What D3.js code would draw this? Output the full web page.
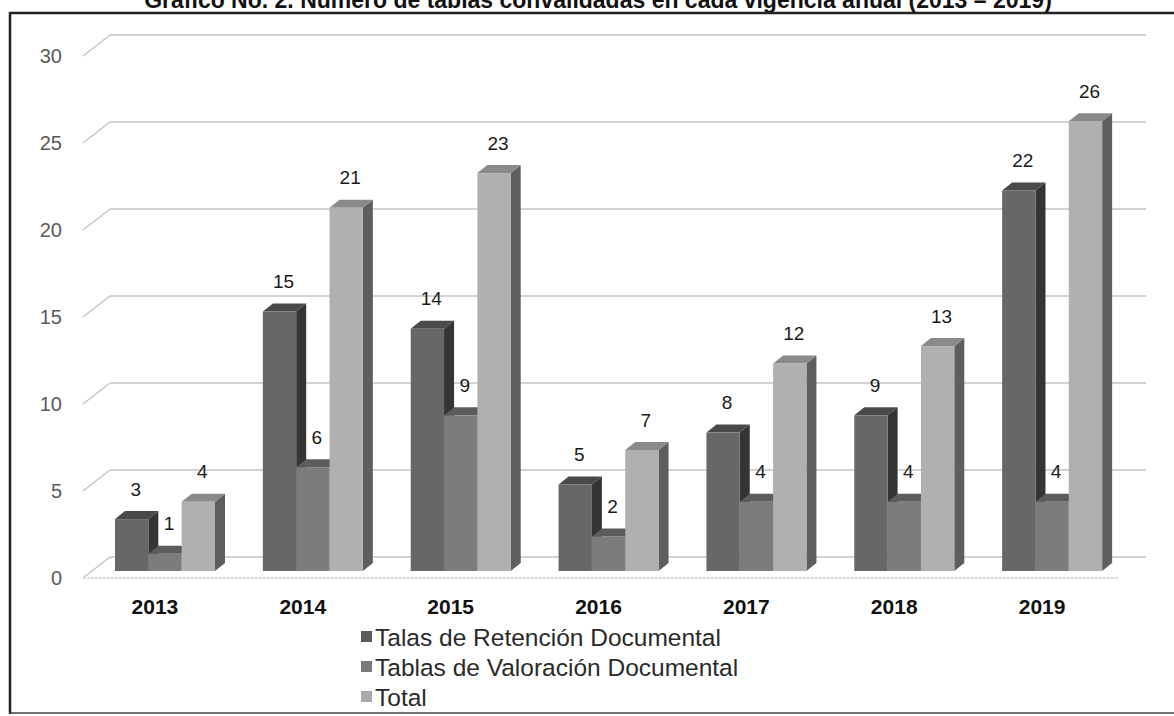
<!DOCTYPE html>
<html><head><meta charset="utf-8">
<script src="https://cdn.jsdelivr.net/npm/d3@7"></script>
<style>html,body{margin:0;padding:0;background:#fff;}svg{display:block;}</style>
</head><body>
<script>
const years = ["2013","2014","2015","2016","2017","2018","2019"];
const seriesNames = ["Talas de Retención Documental","Tablas de Valoración Documental","Total"];
const talas = [3,15,14,5,8,9,22];
const valoracion = [1,6,9,2,4,4,4];
const total = [4,21,23,7,12,13,26];
const yTicks = [0,5,10,15,20,25,30];
const title = "Gráfico No. 2. Número de tablas convalidadas en cada vigencia anual (2013 – 2019)";

const seriesValues = [talas, valoracion, total];
const colors = [
  {front:"#676767", top:"#4a4a4a", side:"#343434", key:"#5a5a5a"},
  {front:"#7c7c7c", top:"#5c5c5c", side:"#4a4a4a", key:"#7a7a7a"},
  {front:"#b0b0b0", top:"#8a8a8a", side:"#5e5e5e", key:"#ababab"}
];

const W = 1174, H = 716;
const svg = d3.select("body").append("svg").attr("width", W).attr("height", H);
const font = "'Liberation Sans', Arial, sans-serif";

// title (cut off at top as in the scan)
svg.append("text").attr("x", 598).attr("y", 8).attr("text-anchor","middle")
  .attr("font-family", font).attr("font-weight","bold").attr("font-size", 23)
  .attr("fill","#111").text(title);

// frame
svg.append("line").attr("x1",9).attr("x2",W).attr("y1",13).attr("y2",13).attr("stroke","#222").attr("stroke-width",2.5);
svg.append("line").attr("x1",10).attr("x2",10).attr("y1",12).attr("y2",714).attr("stroke","#222").attr("stroke-width",2.5);
svg.append("line").attr("x1",9).attr("x2",W).attr("y1",713).attr("y2",713).attr("stroke","#444").attr("stroke-width",1.5);

// scales
const depthX = 27, depthY = 21;
const x0 = d3.scaleBand().domain(years).range([83, 1118]).padding(0);
const x1 = d3.scaleBand().domain(d3.range(seriesNames.length)).range([32, 132]).padding(0);
const yWall = d3.scaleLinear().domain([0,30]).range([557, 35]);
const yBar = d3.scaleLinear().domain([0,30]).range([571, 52]);

// gridlines on back wall + diagonals on side
const grid = svg.append("g");
yTicks.forEach(v => {
  const yb = yWall(v);
  grid.append("line").attr("x1", 83).attr("y1", yb + depthY).attr("x2", 83 + depthX).attr("y2", yb)
    .attr("stroke","#c4c4c4").attr("stroke-width",1.4);
  grid.append("line").attr("x1", 83 + depthX).attr("y1", yb).attr("x2", 1146).attr("y2", yb)
    .attr("stroke","#c4c4c4").attr("stroke-width",1.4);
  svg.append("text").attr("x", 62).attr("y", yb + depthY).attr("dy","0.35em")
    .attr("text-anchor","end").attr("font-family", font).attr("font-size", 20)
    .attr("fill","#5a5a5a").text(v);
});
// floor front edge
grid.append("line").attr("x1",83).attr("y1",557+depthY).attr("x2",1118).attr("y2",557+depthY)
  .attr("stroke","#d0d0d0").attr("stroke-width",1.4).attr("stroke-dasharray","3,1");

// bars
const dx = 10, dy = 8;
const bars = svg.append("g");
years.forEach((yr, i) => {
  seriesValues.forEach((vals, s) => {
    const v = vals[i];
    const x = x0(yr) + x1(s);
    const w = x1.bandwidth();
    const top = yBar(v), base = yBar(0);
    const c = colors[s];
    bars.append("polygon")
      .attr("points", [[x+w,top],[x+w+dx,top-dy],[x+w+dx,base-dy],[x+w,base]].map(p=>p.join(",")).join(" "))
      .attr("fill", c.side);
    bars.append("polygon")
      .attr("points", [[x,top],[x+dx,top-dy],[x+w+dx,top-dy],[x+w,top]].map(p=>p.join(",")).join(" "))
      .attr("fill", c.top);
    bars.append("rect").attr("x", x).attr("y", top).attr("width", w).attr("height", base - top)
      .attr("fill", c.front);
  });
});

// value labels
const labels = svg.append("g");
years.forEach((yr, i) => {
  seriesValues.forEach((vals, s) => {
    const v = vals[i];
    const x = x0(yr) + x1(s) + x1.bandwidth()/2 + 4;
    labels.append("text").attr("x", x).attr("y", yBar(v) - 30).attr("dy","0.35em")
      .attr("text-anchor","middle").attr("font-family", font).attr("font-size", 19)
      .attr("fill","#1a1a1a").text(v);
  });
});

// category labels
years.forEach(yr => {
  svg.append("text").attr("x", x0(yr) + x0.bandwidth()/2 - 2).attr("y", 607).attr("dy","0.35em")
    .attr("text-anchor","middle").attr("font-family", font).attr("font-weight","bold")
    .attr("font-size", 21).attr("fill","#111").text(yr);
});

// legend
const lg = svg.append("g");
seriesNames.forEach((n, s) => {
  const cy = 637 + s * 30;
  lg.append("rect").attr("x", 361).attr("y", cy - 6).attr("width", 11).attr("height", 11).attr("fill", colors[s].key);
  lg.append("text").attr("x", 375).attr("y", cy).attr("dy","0.35em")
    .attr("font-family", font).attr("font-size", 24.5).attr("fill","#2a2a2a").text(n);
});
</script>
</body></html>
